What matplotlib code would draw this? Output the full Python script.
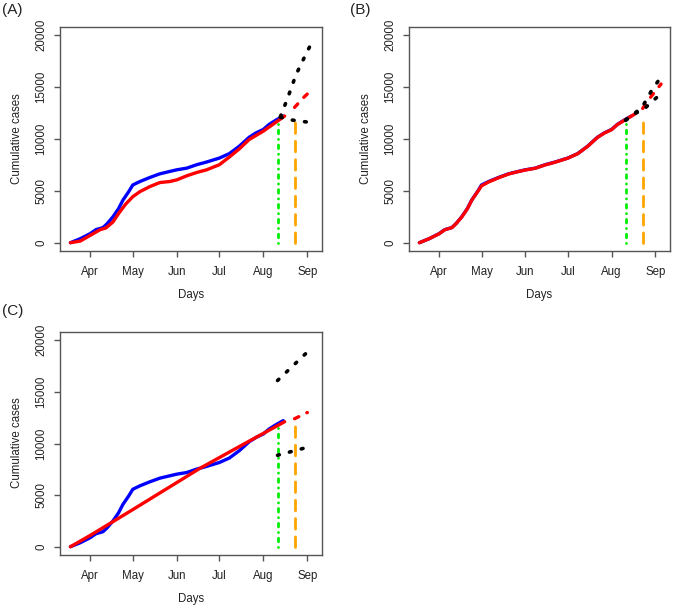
import numpy as np
import matplotlib
matplotlib.use("Agg")
import matplotlib.pyplot as plt
import matplotlib.dates as mdates

plt.rcParams['font.family'] = ['Liberation Sans', 'DejaVu Sans']

# ---------------- data ----------------
obs_dates = ['2020-03-18', '2020-03-25', '2020-04-01', '2020-04-05', '2020-04-10',
             '2020-04-13', '2020-04-17', '2020-04-21', '2020-04-24', '2020-04-28',
             '2020-05-01', '2020-05-06', '2020-05-13', '2020-05-20', '2020-05-27',
             '2020-06-01', '2020-06-08', '2020-06-15', '2020-06-22', '2020-07-01',
             '2020-07-08', '2020-07-15', '2020-07-22', '2020-07-27', '2020-08-01',
             '2020-08-05', '2020-08-10', '2020-08-15']
obs_cases = [0, 390, 880, 1260, 1460, 1850, 2500, 3300, 4100, 4900,
             5570, 5900, 6290, 6640, 6870, 7030, 7190, 7520, 7780, 8160,
             8590, 9300, 10170, 10600, 10920, 11400, 11830, 12215]

# (A) model fit + forecast
fitA_dates = ['2020-03-18', '2020-03-25', '2020-04-01', '2020-04-08', '2020-04-12',
              '2020-04-17', '2020-04-21', '2020-04-26', '2020-05-01', '2020-05-06',
              '2020-05-13', '2020-05-20', '2020-05-27', '2020-06-01', '2020-06-08',
              '2020-06-15', '2020-06-22', '2020-07-01', '2020-07-08', '2020-07-15',
              '2020-07-22', '2020-08-01', '2020-08-10', '2020-08-16']
fitA = [0, 160, 710, 1260, 1420, 2000, 2820, 3730, 4440, 4925,
        5410, 5800, 5900, 6060, 6450, 6770, 7030, 7520, 8260, 9040,
        9950, 10760, 11630, 12215]
fcA_dates = ['2020-08-23', '2020-08-29', '2020-09-05']
fcA = [13050, 13950, 14870]
upA_dates = ['2020-08-13', '2020-08-18', '2020-08-24', '2020-08-30', '2020-09-05']
upA = [12150, 13900, 16200, 17900, 19550]
loA_dates = ['2020-08-13', '2020-08-20', '2020-08-28', '2020-09-05']
loA = [12100, 11850, 11700, 11570]

# (B) model fit + forecast
fitB_dates = obs_dates[:-1] + ['2020-08-18']
fitB = [0, 390, 860, 1250, 1450, 1840, 2480, 3280, 4080, 4880,
        5480, 5860, 6260, 6620, 6860, 7010, 7180, 7500, 7760, 8150,
        8580, 9280, 10150, 10580, 10900, 11380, 11800, 12450]
fcB_dates = ['2020-08-23', '2020-08-29', '2020-09-05']
fcB = [12950, 14100, 15300]
upB_dates = ['2020-08-11', '2020-08-18', '2020-08-23', '2020-08-29', '2020-09-05']
upB = [11850, 12550, 13150, 14600, 16000]
loB_dates = ['2020-08-11', '2020-08-18', '2020-08-23', '2020-08-29', '2020-09-05']
loB = [11800, 12500, 12750, 13550, 14350]

# (C) model fit + forecast
fitC_dates = ['2020-03-18', '2020-04-01', '2020-05-01', '2020-06-17', '2020-07-15', '2020-08-16']
fitC = [0, 1100, 3600, 7570, 9700, 12110]
fcC_dates = ['2020-08-23', '2020-09-01']
fcC = [12400, 13000]
upC_dates = ['2020-08-11', '2020-09-02']
upC = [16100, 18990]
loC_dates = ['2020-08-11', '2020-09-02']
loC = [8860, 9670]

green_date = '2020-08-11'
orange_date = '2020-08-23'
green_top = [11720, 11880, 11690]
orange_top = [12210, 12210, 12270]

yticks = [0, 5000, 10000, 15000, 20000]

# ---------------- plotting ----------------
W, H = 673, 607
fig = plt.figure(figsize=(W / 100, H / 100), dpi=100)

def d(lst):
    return np.array(lst, dtype='datetime64[D]')

def axes_px(l, r, t, b):
    return fig.add_axes([l / W, 1 - b / H, (r - l) / W, (b - t) / H])

TXT = '#222222'
BOX = '#555555'

def style(ax):
    ax.set_xlim(np.datetime64('2020-03-10T16:00'), np.datetime64('2020-09-11T08:00'))
    ax.set_ylim(-800, 20800)
    ax.set_yticks(yticks)
    ax.set_yticklabels([str(v) for v in yticks])
    ax.xaxis.set_major_locator(mdates.MonthLocator(bymonth=[4, 5, 6, 7, 8, 9]))
    ax.xaxis.set_major_formatter(mdates.DateFormatter('%b'))
    for s in ax.spines.values():
        s.set_color(BOX)
        s.set_linewidth(1.0)
    ax.tick_params(axis='both', direction='out', length=4, width=1.0, color=BOX,
                   labelsize=8.3, labelcolor=TXT)
    ax.tick_params(axis='x', pad=7)
    ax.tick_params(axis='y', pad=5, labelrotation=90)
    for lbl in ax.get_yticklabels():
        lbl.set_va('center')

LW = 2.4
dot_ls = (0, (0.5, 2.9))
dash_ls = (0, (1.4, 2.7))
long_ls = (0, (3.8, 2.8))
dotdash_ls = (0, (0.05, 2.0, 1.3, 2.0))

def panel(ax, fit_d, fit_v, fc_d, fc_v, up_d, up_v, lo_d, lo_v, gtop, otop):
    ax.plot(d(obs_dates), obs_cases, color='#0000FF', lw=LW, solid_capstyle='round', zorder=3)
    ax.plot(d(fit_d), fit_v, color='#FF0000', lw=LW, solid_capstyle='round', zorder=4)
    ax.plot(d([green_date, green_date]), [0, gtop], color='#00EE00', lw=2.0,
            ls=dotdash_ls, dash_capstyle='round', zorder=2)
    ax.plot(d([orange_date, orange_date]), [0, otop], color='#FFA500', lw=2.0,
            ls=long_ls, dash_capstyle='round', zorder=2)
    ax.plot(d(fc_d), fc_v, color='#FF0000', lw=LW, ls=dash_ls, dash_capstyle='round', zorder=4)
    ax.plot(d(up_d), up_v, color='black', lw=2.6, ls=dot_ls, dash_capstyle='round', zorder=5)
    ax.plot(d(lo_d), lo_v, color='black', lw=2.6, ls=dot_ls, dash_capstyle='round', zorder=5)
    style(ax)

axA = axes_px(60, 322, 27, 251)
panel(axA, fitA_dates, fitA, fcA_dates, fcA, upA_dates, upA, loA_dates, loA, green_top[0], orange_top[0])
axB = axes_px(409, 670, 27, 251)
panel(axB, fitB_dates, fitB, fcB_dates, fcB, upB_dates, upB, loB_dates, loB, green_top[1], orange_top[1])
axC = axes_px(60, 322, 332, 555)
panel(axC, fitC_dates, fitC, fcC_dates, fcC, upC_dates, upC, loC_dates, loC, green_top[2], orange_top[2])

def ftext(x, y, s, **kw):
    fig.text(x / W, 1 - y / H, s, color=TXT, **kw)

# axis titles and panel labels
for (cx, cy_lab, yl_x, yl_y) in [(191, 295, 17, 139), (539.5, 295, 366, 139), (191, 599, 17, 443)]:
    ftext(cx, cy_lab, 'Days', fontsize=8.3, ha='center', va='center')
    ftext(yl_x, yl_y, 'Cumulative cases', fontsize=8.3, rotation=90, ha='center', va='center')

ftext(2, 10, '(A)', fontsize=11, ha='left', va='center')
ftext(350, 10, '(B)', fontsize=11, ha='left', va='center')
ftext(2, 311, '(C)', fontsize=11, ha='left', va='center')

fig.savefig('out.png', dpi=100)
